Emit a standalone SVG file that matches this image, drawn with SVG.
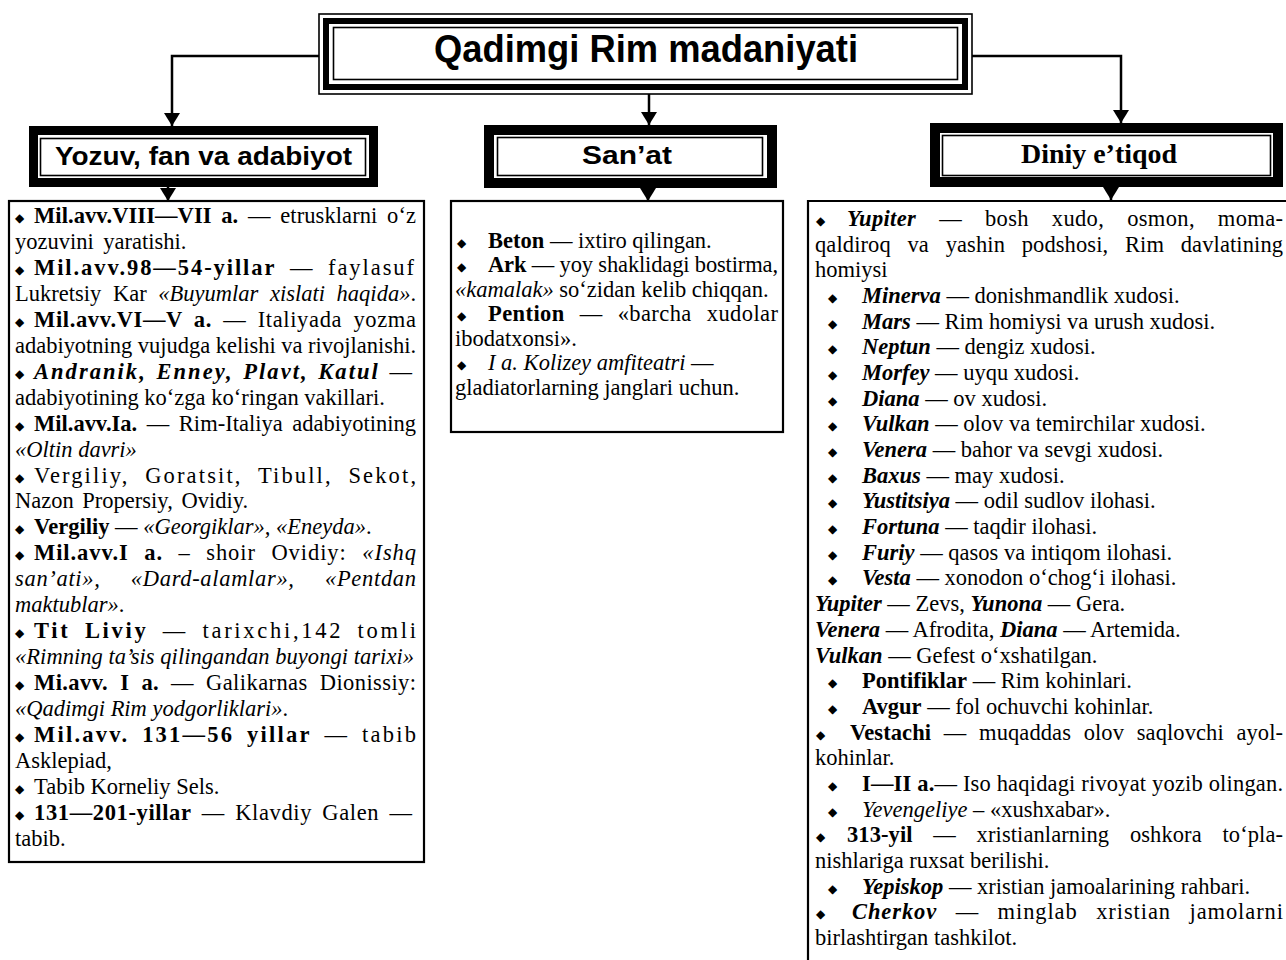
<svg xmlns="http://www.w3.org/2000/svg" width="1286" height="960" viewBox="0 0 1286 960">
<defs>
<style>
.t{font-family:"Liberation Serif","Times New Roman",serif;font-size:22.5px;fill:#000}
.b{font-weight:bold}
.i{font-style:italic}
.bi{font-weight:bold;font-style:italic}
.bu{font-family:"DejaVu Sans",sans-serif;font-size:12px;fill:#000}
.thin{fill:none;stroke:#000;stroke-width:1.6}
.thick{fill:#fff;stroke:#000}
.box{fill:#fff;stroke:#000;stroke-width:2.2}
.hs{font-family:"Liberation Sans",Arial,sans-serif;font-weight:bold;fill:#000}
.conn{fill:none;stroke:#000;stroke-width:2.5}
</style>
<marker id="arr" viewBox="0 0 13 16" refX="13" refY="8" markerWidth="13" markerHeight="16" markerUnits="userSpaceOnUse" orient="auto">
<path d="M0,0 L13,8 L0,16 z" fill="#000"/>
</marker>
</defs>
<rect width="1286" height="960" fill="#fff"/>

<g id="connectors">
<path class="conn" d="M319,56 H172 V126" marker-end="url(#arr)"/>
<path class="conn" d="M649,94 V125" marker-end="url(#arr)"/>
<path class="conn" d="M972,56 H1121 V123" marker-end="url(#arr)"/>
<path class="conn" d="M168,187 V201" marker-end="url(#arr)"/>
<path class="conn" d="M648,188 V201" marker-end="url(#arr)"/>
<path class="conn" d="M1111,187 V200" marker-end="url(#arr)"/>
</g>

<g id="title">
<rect class="thin" x="319" y="14" width="653" height="80"/>
<rect class="thick" x="326" y="21" width="639" height="66" stroke-width="6"/>
<rect class="thin" x="333.5" y="27.5" width="624" height="52"/>
<text class="hs" x="646" y="62" font-size="38" text-anchor="middle" textLength="424" lengthAdjust="spacingAndGlyphs">Qadimgi Rim madaniyati</text>
</g>

<g id="head-yozuv">
<rect class="thick" x="33.5" y="130.5" width="340" height="52" stroke-width="9"/>
<rect class="thin" x="40.5" y="138.5" width="325" height="37"/>
<text class="hs" x="203.5" y="165" font-size="25" text-anchor="middle" textLength="297" lengthAdjust="spacingAndGlyphs">Yozuv, fan va adabiyot</text>
</g>

<g id="head-sanat">
<rect class="thick" x="489" y="130" width="283" height="53" stroke-width="10"/>
<rect class="thin" x="497.5" y="137.5" width="265" height="38"/>
<text class="hs" x="627" y="164" font-size="25" text-anchor="middle" textLength="90" lengthAdjust="spacingAndGlyphs">San’at</text>
</g>

<g id="head-diniy">
<rect class="thick" x="935" y="128" width="343" height="54" stroke-width="10"/>
<rect class="thin" x="942.5" y="135.5" width="328" height="40"/>
<text x="1099" y="163" font-family="Liberation Serif,Times New Roman,serif" font-weight="bold" font-size="27" text-anchor="middle" textLength="156" lengthAdjust="spacingAndGlyphs">Diniy e’tiqod</text>
</g>

<g id="box-yozuv">
<rect class="box" x="9" y="201" width="415" height="661"/>
<text class="bu" x="15" y="222">◆</text>
<text class="t" x="34" y="223" style="word-spacing:4px" textLength="382" lengthAdjust="spacing"><tspan class="b">Mil.avv.VIII—VII a.</tspan> — etrusklarni o‘z</text>
<text class="t" x="15" y="249" style="word-spacing:4px">yozuvini yaratishi.</text>
<text class="bu" x="15" y="274">◆</text>
<text class="t" x="34" y="275" style="word-spacing:6px" textLength="380" lengthAdjust="spacing"><tspan class="b">Mil.avv.98—54-yillar</tspan> — faylasuf</text>
<text class="t" x="15" y="301" style="word-spacing:6px" textLength="401" lengthAdjust="spacing">Lukretsiy Kar <tspan class="i">«Buyumlar xislati haqida»</tspan>.</text>
<text class="bu" x="15" y="326">◆</text>
<text class="t" x="34" y="327" style="word-spacing:5px" textLength="382" lengthAdjust="spacing"><tspan class="b">Mil.avv.VI—V a.</tspan> — Italiyada yozma</text>
<text class="t" x="15" y="353" textLength="401" lengthAdjust="spacing">adabiyotning vujudga kelishi va rivojlanishi.</text>
<text class="bu" x="15" y="378">◆</text>
<text class="t" x="34" y="379" style="word-spacing:2px" textLength="378" lengthAdjust="spacing"><tspan class="bi">Andranik, Enney, Plavt, Katul</tspan> —</text>
<text class="t" x="15" y="405">adabiyotining ko‘zga ko‘ringan vakillari.</text>
<text class="bu" x="15" y="430">◆</text>
<text class="t" x="34" y="431" style="word-spacing:4px" textLength="382" lengthAdjust="spacing"><tspan class="b">Mil.avv.Ia.</tspan> — Rim-Italiya adabiyotining</text>
<text class="t" x="15" y="457"><tspan class="i">«Oltin davri»</tspan></text>
<text class="bu" x="15" y="482">◆</text>
<text class="t" x="34" y="483" style="word-spacing:8px" textLength="382" lengthAdjust="spacing">Vergiliy, Goratsit, Tibull, Sekot,</text>
<text class="t" x="15" y="508" style="word-spacing:3px">Nazon Propersiy, Ovidiy.</text>
<text class="bu" x="15" y="533">◆</text>
<text class="t" x="34" y="534"><tspan class="b">Vergiliy</tspan> — <tspan class="i">«Georgiklar», «Eneyda»</tspan>.</text>
<text class="bu" x="15" y="559">◆</text>
<text class="t" x="34" y="560" style="word-spacing:9px" textLength="382" lengthAdjust="spacing"><tspan class="b">Mil.avv.I a.</tspan> – shoir Ovidiy: <tspan class="i">«Ishq</tspan></text>
<text class="t i" x="15" y="586" style="word-spacing:24px" textLength="401" lengthAdjust="spacing">san’ati», «Dard-alamlar», «Pentdan</text>
<text class="t" x="15" y="612"><tspan class="i">maktublar»</tspan>.</text>
<text class="bu" x="15" y="637">◆</text>
<text class="t" x="34" y="638" style="word-spacing:6px" textLength="382" lengthAdjust="spacing"><tspan class="b">Tit Liviy</tspan> — tarixchi,142 tomli</text>
<text class="t i" x="15" y="664" textLength="399" lengthAdjust="spacing">«Rimning ta’sis qilingandan buyongi tarixi»</text>
<text class="bu" x="15" y="689">◆</text>
<text class="t" x="34" y="690" style="word-spacing:6px" textLength="382" lengthAdjust="spacing"><tspan class="b">Mi.avv. I a.</tspan> — Galikarnas Dionissiy:</text>
<text class="t" x="15" y="716"><tspan class="i">«Qadimgi Rim yodgorliklari»</tspan>.</text>
<text class="bu" x="15" y="741">◆</text>
<text class="t" x="34" y="742" style="word-spacing:5px" textLength="382" lengthAdjust="spacing"><tspan class="b">Mil.avv. 131—56 yillar</tspan> — tabib</text>
<text class="t" x="15" y="768">Asklepiad,</text>
<text class="bu" x="15" y="793">◆</text>
<text class="t" x="34" y="794">Tabib Korneliy Sels.</text>
<text class="bu" x="15" y="819">◆</text>
<text class="t" x="34" y="820" style="word-spacing:4px" textLength="378" lengthAdjust="spacing"><tspan class="b">131—201-yillar</tspan> — Klavdiy Galen —</text>
<text class="t" x="15" y="846">tabib.</text>
</g>

<g id="box-sanat">
<rect class="box" x="451" y="201" width="332" height="231"/>
<text class="bu" x="457" y="247">◆</text>
<text class="t" x="488" y="248"><tspan class="b">Beton</tspan> — ixtiro qilingan.</text>
<text class="bu" x="457" y="271">◆</text>
<text class="t" x="488" y="272" textLength="290" lengthAdjust="spacing"><tspan class="b">Ark</tspan> — yoy shaklidagi bostirma,</text>
<text class="t" x="455" y="297"><tspan class="i">«kamalak»</tspan> so‘zidan kelib chiqqan.</text>
<text class="bu" x="457" y="320">◆</text>
<text class="t" x="488" y="321" style="word-spacing:9px" textLength="290" lengthAdjust="spacing"><tspan class="b">Pention</tspan> — «barcha xudolar</text>
<text class="t" x="455" y="346">ibodatxonsi».</text>
<text class="bu" x="457" y="369">◆</text>
<text class="t" x="488" y="370"><tspan class="i">I a. Kolizey amfiteatri</tspan> —</text>
<text class="t" x="455" y="395">gladiatorlarning janglari uchun.</text>
</g>

<g id="box-diniy">
<path class="box" d="M1290,201 H808 V962"/>
<text class="bu" x="816" y="225">◆</text>
<text class="t" x="847" y="226" style="word-spacing:17px" textLength="436" lengthAdjust="spacing"><tspan class="bi">Yupiter</tspan> — bosh xudo, osmon, moma-</text>
<text class="t" x="815" y="252" style="word-spacing:11px" textLength="468" lengthAdjust="spacing">qaldiroq va yashin podshosi, Rim davlatining</text>
<text class="t" x="815" y="277">homiysi</text>
<text class="bu" x="828" y="302">◆</text>
<text class="t" x="862" y="303"><tspan class="bi">Minerva</tspan> — donishmandlik xudosi.</text>
<text class="bu" x="828" y="328">◆</text>
<text class="t" x="862" y="329"><tspan class="bi">Mars</tspan> — Rim homiysi va urush xudosi.</text>
<text class="bu" x="828" y="353">◆</text>
<text class="t" x="862" y="354"><tspan class="bi">Neptun</tspan> — dengiz xudosi.</text>
<text class="bu" x="828" y="379">◆</text>
<text class="t" x="862" y="380"><tspan class="bi">Morfey</tspan> — uyqu xudosi.</text>
<text class="bu" x="828" y="405">◆</text>
<text class="t" x="862" y="406"><tspan class="bi">Diana</tspan> — ov xudosi.</text>
<text class="bu" x="828" y="430">◆</text>
<text class="t" x="862" y="431"><tspan class="bi">Vulkan</tspan> — olov va temirchilar xudosi.</text>
<text class="bu" x="828" y="456">◆</text>
<text class="t" x="862" y="457"><tspan class="bi">Venera</tspan> — bahor va sevgi xudosi.</text>
<text class="bu" x="828" y="482">◆</text>
<text class="t" x="862" y="483"><tspan class="bi">Baxus</tspan> — may xudosi.</text>
<text class="bu" x="828" y="507">◆</text>
<text class="t" x="862" y="508"><tspan class="bi">Yustitsiya</tspan> — odil sudlov ilohasi.</text>
<text class="bu" x="828" y="533">◆</text>
<text class="t" x="862" y="534"><tspan class="bi">Fortuna</tspan> — taqdir ilohasi.</text>
<text class="bu" x="828" y="559">◆</text>
<text class="t" x="862" y="560"><tspan class="bi">Furiy</tspan> — qasos va intiqom ilohasi.</text>
<text class="bu" x="828" y="584">◆</text>
<text class="t" x="862" y="585"><tspan class="bi">Vesta</tspan> — xonodon o‘chog‘i ilohasi.</text>
<text class="t" x="815" y="611"><tspan class="bi">Yupiter</tspan> — Zevs, <tspan class="bi">Yunona</tspan> — Gera.</text>
<text class="t" x="815" y="637"><tspan class="bi">Venera</tspan> — Afrodita, <tspan class="bi">Diana</tspan> — Artemida.</text>
<text class="t" x="815" y="663"><tspan class="bi">Vulkan</tspan> — Gefest o‘xshatilgan.</text>
<text class="bu" x="828" y="687">◆</text>
<text class="t" x="862" y="688"><tspan class="b">Pontifiklar</tspan> — Rim kohinlari.</text>
<text class="bu" x="828" y="713">◆</text>
<text class="t" x="862" y="714"><tspan class="b">Avgur</tspan> — fol ochuvchi kohinlar.</text>
<text class="bu" x="816" y="739">◆</text>
<text class="t" x="850" y="740" style="word-spacing:7px" textLength="433" lengthAdjust="spacing"><tspan class="b">Vestachi</tspan> — muqaddas olov saqlovchi ayol-</text>
<text class="t" x="815" y="765">kohinlar.</text>
<text class="bu" x="828" y="790">◆</text>
<text class="t" x="862" y="791" textLength="421" lengthAdjust="spacing"><tspan class="b">I—II a.</tspan>— Iso haqidagi rivoyat yozib olingan.</text>
<text class="bu" x="828" y="816">◆</text>
<text class="t" x="862" y="817"><tspan class="i">Yevengeliye</tspan> – «xushxabar».</text>
<text class="bu" x="816" y="841">◆</text>
<text class="t" x="847" y="842" style="word-spacing:15px" textLength="436" lengthAdjust="spacing"><tspan class="b">313-yil</tspan> — xristianlarning oshkora to‘pla-</text>
<text class="t" x="815" y="868">nishlariga ruxsat berilishi.</text>
<text class="bu" x="828" y="893">◆</text>
<text class="t" x="862" y="894"><tspan class="bi">Yepiskop</tspan> — xristian jamoalarining rahbari.</text>
<text class="bu" x="816" y="918">◆</text>
<text class="t" x="852" y="919" style="word-spacing:12px" textLength="431" lengthAdjust="spacing"><tspan class="bi">Cherkov</tspan> — minglab xristian jamolarni</text>
<text class="t" x="815" y="945">birlashtirgan tashkilot.</text>
</g>
</svg>
